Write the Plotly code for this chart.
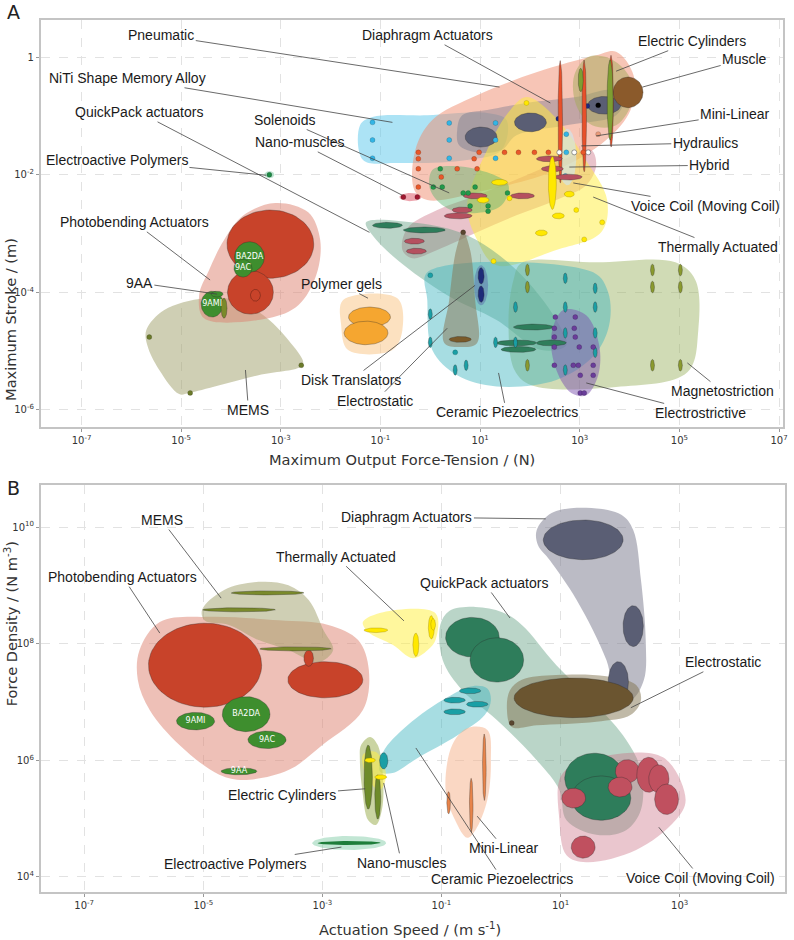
import numpy as np
import plotly.graph_objects as go

# ===================== PANEL A : log10(force N) vs log10(stroke m) =====================
A_MEMS = ([-5.70, -5.34, -4.54, -3.94, -3.35, -2.85, -2.55, -2.61, -3.45, -4.84, -5.04, -5.44, -5.68],
          [-4.64, -4.30, -4.10, -4.13, -4.39, -4.81, -5.19, -5.27, -5.41, -5.71, -5.73, -5.32, -4.90])
A_PHOTO = ([-3.11, -2.45, -2.21, -2.29, -2.65, -3.25, -4.54, -4.64, -4.44, -4.14, -3.75],
           [-2.48, -2.64, -3.11, -3.71, -4.22, -4.44, -4.44, -4.05, -3.62, -3.11, -2.69])
A_GELS = ([-1.75, -0.66, -0.56, -0.76, -1.65, -1.79], [-4.13, -4.10, -4.64, -4.98, -4.98, -4.55])
A_NITI = ([-1.41, -1.16, -0.06, 1.14, 1.53, 1.43, 0.74, -0.66, -1.35],
          [-1.16, -1.02, -0.99, -0.95, -1.07, -1.58, -1.75, -1.80, -1.75])
A_PNEU = ([-0.32, -0.30, 0.04, 0.94, 2.13, 3.33, 3.73, 4.08, 4.02, 3.53, 2.53, 1.14, -0.06],
          [-2.26, -1.58, -1.07, -0.65, -0.26, 0.03, 0.09, -0.31, -0.90, -1.41, -1.92, -2.26, -2.43])
A_DIAPH = ([0.54, 0.64, 1.14, 1.93, 2.93, 3.63, 3.88, 3.73, 2.73, 1.73, 1.43, 0.94, 0.58],
           [-1.24, -0.99, -0.90, -0.78, -0.68, -0.56, -0.73, -0.99, -1.16, -1.33, -1.58, -1.62, -1.50])
A_ECYL = ([3.17, 2.89, 2.93, 3.25, 3.73, 4.06, 3.98, 3.59], [0.00, -0.31, -0.82, -1.16, -1.16, -0.73, -0.31, -0.02])
A_VOICE = ([-0.56, -0.46, 0.14, 0.94, 1.93, 2.73, 3.23, 3.33, 3.13, 2.53, 1.73, 0.94, 0.14, -0.36],
           [-3.28, -2.91, -2.60, -2.35, -2.01, -1.72, -1.58, -1.84, -2.18, -2.43, -2.69, -2.98, -3.28, -3.42])
A_THERM = ([1.93, 2.53, 3.12, 3.55, 3.43, 2.53, 1.33, 0.94, 0.74, 1.14, 1.57],
           [-0.68, -1.04, -1.75, -2.43, -2.98, -3.28, -3.54, -3.11, -2.52, -1.58, -0.94])
A_SOLEN = ([0.04, 0.44, 1.14, 1.57, 1.43, 0.94, 0.34, 0.00], [-1.92, -1.85, -1.96, -2.18, -2.52, -2.65, -2.57, -2.26])
A_QUICK = ([-1.29, -0.26, 0.74, 1.73, 2.53, 2.73, 2.23, 1.33, 0.34, -0.66, -1.16],
           [-2.81, -2.82, -3.03, -3.62, -4.47, -4.90, -4.98, -4.47, -4.05, -3.45, -3.03])
A_MAGNETO = ([1.83, 3.33, 4.92, 5.32, 5.38, 5.16, 3.73, 2.03, 1.69, 1.57, 1.67],
             [-3.50, -3.49, -3.49, -3.79, -4.64, -5.36, -5.61, -5.58, -5.32, -4.47, -3.79])
A_CERAMIC = ([-0.06, 3.27, 3.57, 3.59, 3.29, 2.53, 1.33, 0.54, 0.04, -0.06],
             [-3.66, -3.66, -4.00, -4.56, -5.07, -5.49, -5.60, -5.41, -4.98, -4.13])
A_ESTATIC = ([0.66, 0.80, 0.90, 0.94, 0.62, 0.28, 0.38, 0.52], [-2.98, -3.28, -4.13, -4.86, -4.93, -4.86, -4.13, -3.28])
A_ESTRICT = ([2.67, 3.13, 3.39, 3.37, 3.13, 2.83, 2.53, 2.43], [-4.30, -4.39, -4.90, -5.41, -5.75, -5.71, -5.32, -4.73])

A_ELL_PHOTO_RED = [(-3.21, -3.18, 0.87, 0.58), (-3.61, -4.00, 0.46, 0.37)]
A_ELL_PHOTO_SMALL = [(-3.51, -4.05, 0.10, 0.10)]
A_ELL_PHOTO_GREEN = [(-3.63, -3.40, 0.30, 0.26), (-3.76, -3.59, 0.18, 0.15), (-4.38, -4.20, 0.22, 0.22), (-4.28, -4.03, 0.12, 0.05)]
A_PHOTO_NAMES = ["BA2DA", "9AC", "9AMI", " "]
A_ELL_MEMS_OLIVE = [(-4.14, -4.27, 0.06, 0.17)]
A_DOT_MEMS = [(-5.64, -4.76), (-4.82, -5.71), (-2.59, -5.24)]
A_ELL_GELS = [(-1.22, -4.42, 0.42, 0.17), (-1.29, -4.69, 0.44, 0.20)]
A_EAP = [(-3.23, -2.00)]
A_ELL_DIAPH = [(1.02, -1.36, 0.32, 0.17), (2.01, -1.11, 0.32, 0.16), (3.49, -0.82, 0.33, 0.15)]
A_DOT_DIAPH = [(2.57, -1.05), (3.15, -0.83)]
A_DOT_BLACK = [(3.37, -0.82)]
A_ELL_HYDR = [(2.61, -1.10, 0.045, 1.04), (3.09, -1.00, 0.045, 0.95), (3.63, -0.75, 0.045, 0.78)]
A_ELL_ECYL = [(3.02, -0.39, 0.05, 0.20), (3.61, -0.73, 0.06, 0.68)]
A_ELL_MUSCLE = [(3.97, -0.60, 0.30, 0.26)]
A_HYBRID = [(2.75, -1.70, 0.18, 0.48)]
A_DOT_OPEN = [(2.59, -1.62), (2.89, -1.62), (3.17, -1.62)]
A_DOT_MINI = [(3.37, -1.31)]
A_DOT_PNEU = [(-0.24, -1.62), (-0.24, -1.73), (-0.24, -1.90), (-0.24, -2.21), (0.22, -2.04), (0.54, -1.90),
              (0.88, -1.73), (0.94, -1.90), (0.98, -1.62), (1.49, -1.62), (1.77, -1.62), (2.09, -1.62),
              (2.37, -1.62), (3.07, -1.62)]
A_DOT_NITI = [(-1.16, -1.11), (-1.16, -1.41), (-1.16, -1.72), (0.38, -1.12), (0.38, -1.41), (0.38, -1.72),
              (1.31, -1.12), (1.31, -1.41), (1.31, -1.72), (2.73, -1.31), (2.73, -1.62), (2.71, -2.02)]
A_ELL_VOICE = [(2.39, -1.73, 0.26, 0.05), (2.45, -1.90, 0.22, 0.05), (2.77, -2.04, 0.28, 0.05), (0.90, -2.36, 0.24, 0.05),
               (1.85, -2.36, 0.24, 0.05), (0.64, -2.60, 0.20, 0.05), (0.56, -2.70, 0.28, 0.05), (-0.32, -3.13, 0.20, 0.05),
               (-0.28, -3.30, 0.20, 0.05)]
A_ELL_NANO = [(-0.40, -2.38, 0.22, 0.07)]
A_DOT_NANO = [(-0.54, -2.38), (-0.26, -2.38)]
A_ELL_THERM = [(2.45, -2.14, 0.08, 0.45), (1.39, -2.13, 0.16, 0.05), (1.06, -2.43, 0.12, 0.05), (2.79, -2.33, 0.10, 0.05),
               (2.57, -2.70, 0.12, 0.05), (2.23, -2.99, 0.12, 0.05)]
A_DOT_THERM = [(2.93, -2.60), (3.45, -2.81), (1.59, -2.40), (1.93, -0.78), (1.27, -3.47), (3.09, -3.10)]
A_DOT_SOLEN = [(0.20, -1.90), (0.06, -2.21), (0.24, -2.21), (0.66, -2.31), (0.76, -2.31), (0.90, -2.21),
               (1.55, -2.31), (1.16, -2.53), (1.16, -2.62), (0.80, -2.53)]
A_ELL_QUICK = [(-0.86, -2.86, 0.30, 0.05), (-0.12, -2.94, 0.42, 0.05), (2.07, -4.59, 0.40, 0.05),
               (1.73, -4.86, 0.40, 0.05), (1.77, -4.97, 0.35, 0.05), (2.43, -4.86, 0.30, 0.05)]
A_ELL_ESTATIC = [(0.60, -4.80, 0.22, 0.05)]
A_DOT_ESTATIC = [(0.66, -2.98)]
A_ELL_DISK_HALO = [(1.02, -3.88, 0.14, 0.34)]
A_ELL_DISK = [(1.02, -3.72, 0.06, 0.14), (1.02, -4.03, 0.06, 0.14)]
A_ELL_CERAMIC = [(0.0, -4.37), (0.0, -4.85), (0.5, -5.32), (0.72, -5.24), (1.31, -4.85), (1.71, -4.25), (1.71, -4.85),
                 (2.71, -3.76), (2.71, -4.25), (2.71, -4.69), (2.71, -5.32), (3.31, -3.93), (3.31, -4.25),
                 (3.31, -4.69), (3.31, -5.02)]
A_DOT_CERAMIC = [(0.0, -3.71), (0.5, -5.02)]
A_ELL_MAGNETO = [(1.95, -3.62), (1.95, -3.91), (1.95, -5.24), (4.46, -3.62), (4.46, -3.91), (4.46, -5.24),
                 (5.02, -3.62), (5.02, -3.91), (5.02, -5.24)]
A_DOT_ESTRICT = [(2.51, -4.42), (2.91, -4.42), (2.49, -4.61), (2.89, -4.61), (2.49, -4.76), (2.91, -4.76),
                 (2.49, -4.93), (2.99, -4.93), (3.27, -4.93), (2.49, -5.24), (2.87, -5.24), (2.97, -5.24),
                 (3.27, -5.24), (3.01, -5.41), (3.27, -5.41), (3.01, -5.71), (3.09, -5.71)]

# label, text x, text y, target x, target y (log10 units)
A_LABELS = [
    ("Pneumatic", -5.40, 0.37, 1.39, -0.51),
    ("Diaphragm Actuators", -0.06, 0.37, 2.41, -0.78),
    ("Electric Cylinders", 5.26, 0.27, 3.73, -0.24),
    ("Muscle", 6.31, -0.03, 4.26, -0.51),
    ("Mini-Linear", 6.12, -0.97, 3.33, -1.34),
    ("Hydraulics", 5.52, -1.46, 3.03, -1.51),
    ("Hybrid", 5.60, -1.84, 2.79, -1.87),
    ("Voice Coil (Moving Coil)", 5.52, -2.53, 2.87, -2.14),
    ("Thermally Actuated", 5.78, -3.23, 3.27, -2.38),
    ("NiTi Shape Memory Alloy", -6.08, -0.36, -0.76, -1.11),
    ("QuickPack actuators", -5.84, -0.94, -1.22, -2.98),
    ("Solenoids", -2.91, -1.07, 0.38, -2.31),
    ("Nano-muscles", -2.63, -1.45, -0.56, -2.35),
    ("Electroactive Polymers", -6.29, -1.75, -3.29, -2.01),
    ("Photobending Actuators", -5.94, -2.81, -4.42, -3.79),
    ("9AA", -5.84, -3.84, -4.28, -4.03),
    ("Polymer gels", -1.79, -3.86, -1.25, -4.10),
    ("Disk Translators", -1.59, -5.49, 0.90, -3.88),
    ("Electrostatic", -1.10, -5.85, 0.34, -4.61),
    ("Ceramic Piezoelectrics", 1.53, -6.04, 1.37, -5.37),
    ("Magnetostriction", 5.86, -5.68, 5.16, -5.20),
    ("Electrostrictive", 5.42, -6.05, 3.13, -5.54),
    ("MEMS", -3.65, -6.00, -3.71, -5.32),
]

# ===================== PANEL B : log10(speed m/s) vs log10(force density N/m3) =====================
B_PHOTO = ([-6.07, -5.73, -4.90, -3.73, -2.90, -2.40, -2.22, -2.32, -3.00, -3.57, -4.32, -4.73, -5.40, -5.90, -6.10],
           [7.89, 8.37, 8.46, 8.40, 8.32, 8.06, 7.55, 6.86, 6.26, 5.83, 5.66, 5.75, 6.26, 6.86, 7.38])
B_MEMS = ([-5.02, -4.65, -4.07, -3.57, -3.23, -2.98, -2.82, -3.07, -3.57, -4.07, -4.57, -4.98],
          [8.58, 8.92, 9.06, 9.00, 8.75, 8.23, 7.89, 7.68, 7.89, 8.06, 8.32, 8.40])
B_THERM = ([-2.32, -1.98, -1.10, -1.10, -1.23, -1.48, -1.82, -2.23], [8.37, 8.54, 8.52, 8.06, 7.89, 7.75, 7.98, 8.20])
B_DIAPH = ([0.60, 0.85, 1.43, 2.02, 2.22, 2.35, 2.43, 2.40, 2.18, 1.93, 1.77, 1.27, 0.82, 0.62],
           [9.95, 10.24, 10.33, 10.21, 9.95, 9.09, 8.06, 7.38, 7.03, 7.12, 7.72, 8.75, 9.43, 9.69])
B_QUICK = ([-1.02, -0.87, -0.43, 0.02, 0.35, 0.93, 1.60, 2.10, 2.35, 2.35, 2.10, 1.60, 1.10, 0.98, 0.60, -0.07, -0.65, -0.98],
           [8.32, 8.56, 8.63, 8.54, 8.32, 7.63, 6.95, 6.35, 5.83, 5.15, 4.80, 4.72, 4.97, 5.49, 6.00, 6.69, 7.20, 7.72])
B_ESTATIC = ([0.15, 0.35, 0.93, 1.77, 2.27, 2.35, 2.18, 1.60, 0.60, 0.18, 0.10],
             [7.20, 7.38, 7.46, 7.44, 7.29, 7.03, 6.78, 6.66, 6.60, 6.57, 6.86])
B_CERAMIC = ([-2.03, -1.98, -1.57, -0.90, -0.48, -0.23, -0.17, -0.27, -0.73, -1.40, -1.82],
             [5.80, 6.14, 6.60, 7.08, 7.27, 7.23, 7.03, 6.78, 6.43, 6.04, 5.78])
B_ECYL = ([-2.35, -2.20, -2.07, -1.98, -2.00, -2.10, -2.23, -2.33, -2.37],
          [6.26, 6.40, 6.26, 5.66, 5.15, 4.89, 4.97, 5.49, 6.00])
B_NANO = ([-2.32, -2.10, -1.93, -2.03, -2.23], [6.09, 6.14, 5.75, 5.49, 5.66])
B_MINI = ([-0.93, -0.82, -0.57, -0.23, -0.17, -0.23, -0.43, -0.57, -0.77],
          [5.49, 6.26, 6.55, 6.52, 6.00, 5.32, 4.80, 4.67, 4.97])
B_VOICE = ([1.02, 1.60, 2.72, 3.10, 2.93, 2.27, 1.43, 1.10, 0.98], [5.75, 6.04, 6.05, 5.32, 4.97, 4.46, 4.25, 4.37, 4.97])

B_ELL_PHOTO_RED = [(-4.97, 7.63, 0.95, 0.72), (-2.95, 7.38, 0.63, 0.31), (-3.23, 7.75, 0.08, 0.14)]
B_ELL_PHOTO_GREEN = [(-5.13, 6.67, 0.32, 0.15), (-4.28, 6.79, 0.40, 0.30), (-3.93, 6.35, 0.32, 0.15), (-4.40, 5.81, 0.30, 0.06)]
B_PHOTO_NAMES = ["9AMI", "BA2DA", "9AC", "9AA"]
B_ELL_MEMS = [(-3.92, 8.87, 0.61, 0.035), (-4.40, 8.58, 0.61, 0.035), (-3.45, 7.91, 0.60, 0.035)]
B_ELL_THERM = [(-2.10, 8.23, 0.20, 0.04), (-1.43, 7.98, 0.05, 0.20), (-1.17, 8.28, 0.05, 0.20), (-1.14, 8.33, 0.04, 0.10)]
B_ELL_DIAPH = [(1.38, 9.78, 0.67, 0.34), (2.22, 8.30, 0.17, 0.35), (1.97, 7.34, 0.17, 0.35)]
B_ELL_QUICK = [(-0.48, 8.11, 0.45, 0.34), (-0.07, 7.72, 0.45, 0.38), (1.57, 5.69, 0.50, 0.43), (1.68, 5.35, 0.50, 0.38)]
B_ELL_ESTATIC = [(1.22, 7.07, 1.00, 0.34)]
B_DOT_ESTATIC = [(0.18, 6.64)]
B_ELL_CERAMIC = [(-0.52, 7.19, 0.18, 0.05), (-0.78, 7.03, 0.18, 0.05), (-0.40, 6.96, 0.18, 0.05),
                 (-0.78, 6.83, 0.18, 0.05), (-1.97, 5.99, 0.07, 0.14)]
B_ELL_ECYL = [(-2.23, 5.71, 0.07, 0.55), (-2.07, 5.37, 0.05, 0.38)]
B_ELL_NANO = [(-2.20, 6.00, 0.09, 0.04), (-2.02, 5.71, 0.10, 0.04)]
B_ELL_MINI = [(-0.88, 5.27, 0.03, 0.19), (-0.50, 5.23, 0.03, 0.46), (-0.28, 5.88, 0.03, 0.57)]
B_ELL_VOICE = [(1.22, 5.35, 0.20, 0.17), (2.12, 5.81, 0.20, 0.20), (2.00, 5.54, 0.20, 0.17), (2.48, 5.75, 0.20, 0.30),
               (2.65, 5.68, 0.17, 0.24), (2.78, 5.33, 0.20, 0.26), (1.38, 4.51, 0.20, 0.19)]
B_EAP_HALO = [(-2.55, 4.58, 0.62, 0.12)]
B_ELL_EAP = [(-2.55, 4.58, 0.53, 0.035)]

B_LABELS = [
    ("MEMS", -5.70, 10.12, -4.70, 8.78),
    ("Photobending Actuators", -6.35, 9.14, -5.73, 8.18),
    ("Thermally Actuated", -2.77, 9.49, -1.63, 8.39),
    ("Diaphragm Actuators", -1.58, 10.17, 0.75, 10.14),
    ("QuickPack actuators", -0.28, 9.04, 0.15, 8.44),
    ("Electrostatic", 3.72, 7.68, 2.18, 6.90),
    ("Electric Cylinders", -3.67, 5.40, -2.28, 5.51),
    ("Electroactive Polymers", -4.47, 4.22, -2.68, 4.51),
    ("Nano-muscles", -1.67, 4.24, -1.97, 5.61),
    ("Ceramic Piezoelectrics", 0.02, 3.96, -1.43, 6.21),
    ("Mini-Linear", 0.05, 4.49, -0.40, 5.04),
    ("Voice Coil (Moving Coil)", 3.35, 3.98, 2.65, 4.85),
]

A_XTICKS = [-7, -5, -3, -1, 1, 3, 5, 7]
A_YTICKS = [-6, -4, -2, 0]
B_XTICKS = [-7, -5, -3, -1, 1, 3]
B_YTICKS = [4, 6, 8, 10]

# ===================== drawing =====================
fig = go.Figure()
OUT = 'rgba(40,40,40,0.55)'


def add_region(pts, color, xa, ya):
    xs = list(pts[0]) + [pts[0][0]]
    ys = list(pts[1]) + [pts[1][0]]
    fig.add_trace(go.Scatter(x=10 ** np.array(xs), y=10 ** np.array(ys), mode='lines', fill='toself',
                             fillcolor=color, line=dict(width=0, shape='spline', smoothing=1.0, color=color),
                             hoverinfo='skip', showlegend=False, xaxis=xa, yaxis=ya))


def add_ell(items, fill, xa, ya, line=OUT, lw=0.6):
    t = np.linspace(0, 2 * np.pi, 80)
    for it in items:
        cx, cy, rx, ry = it[:4]
        fig.add_trace(go.Scatter(x=10 ** (cx + rx * np.cos(t)), y=10 ** (cy + ry * np.sin(t)), mode='lines',
                                 fill='toself', fillcolor=fill, line=dict(color=line, width=lw),
                                 hoverinfo='skip', showlegend=False, xaxis=xa, yaxis=ya))


def add_tall(items, fill, xa, ya, rx, ry, line=OUT):
    add_ell([(c[0], c[1], rx, ry) for c in items], fill, xa, ya, line=line)


def add_dots(items, color, xa, ya, size=5, line='rgba(0,0,0,0.3)', lw=0.5):
    fig.add_trace(go.Scatter(x=[10 ** p[0] for p in items], y=[10 ** p[1] for p in items], mode='markers',
                             marker=dict(color=color, size=size, line=dict(color=line, width=lw)),
                             hoverinfo='skip', showlegend=False, xaxis=xa, yaxis=ya))


def add_names(items, names, xa, ya):
    fig.add_trace(go.Scatter(x=[10 ** p[0] for p in items], y=[10 ** p[1] for p in items], mode='text',
                             text=names, textfont=dict(color='white', size=8, family='DejaVu Sans'),
                             hoverinfo='skip', showlegend=False, xaxis=xa, yaxis=ya))


# ---- panel A ----
xa, ya = 'x', 'y'
add_region(A_MEMS, 'rgba(160,160,105,0.5)', xa, ya)
add_region(A_PHOTO, 'rgba(222,130,112,0.5)', xa, ya)
add_region(A_GELS, 'rgba(250,200,140,0.55)', xa, ya)
add_ell([(A_EAP[0][0], A_EAP[0][1], 0.1, 0.06)], 'rgba(120,200,160,0.5)', xa, ya, line='rgba(0,0,0,0)')
add_region(A_NITI, 'rgba(90,200,235,0.5)', xa, ya)
add_region(A_PNEU, 'rgba(240,140,110,0.5)', xa, ya)
add_region(A_DIAPH, 'rgba(95,105,135,0.35)', xa, ya)
add_region(A_ECYL, 'rgba(165,170,90,0.5)', xa, ya)
add_region(A_VOICE, 'rgba(200,105,125,0.4)', xa, ya)
add_region(A_THERM, 'rgba(255,238,60,0.5)', xa, ya)
add_region(A_SOLEN, 'rgba(90,180,110,0.45)', xa, ya)
add_region(A_QUICK, 'rgba(90,155,125,0.42)', xa, ya)
add_region(A_MAGNETO, 'rgba(150,175,90,0.45)', xa, ya)
add_region(A_CERAMIC, 'rgba(60,180,190,0.45)', xa, ya)
add_region(A_ESTATIC, 'rgba(135,115,80,0.5)', xa, ya)
add_region(A_ESTRICT, 'rgba(125,85,175,0.5)', xa, ya)
add_ell(A_HYBRID, 'rgba(205,232,242,0.6)', xa, ya, line='rgba(0,0,0,0)')
add_ell(A_ELL_DISK_HALO, 'rgba(90,110,170,0.5)', xa, ya, line='rgba(0,0,0,0)')

add_ell(A_ELL_PHOTO_RED, '#C8432A', xa, ya)
add_ell(A_ELL_PHOTO_SMALL, '#C8432A', xa, ya, line='rgba(60,20,10,0.6)')
add_ell(A_ELL_PHOTO_GREEN, '#3E8E2E', xa, ya)
add_ell(A_ELL_MEMS_OLIVE, '#7A8A2A', xa, ya)
add_names(A_ELL_PHOTO_GREEN, A_PHOTO_NAMES, xa, ya)
add_dots(A_DOT_MEMS, '#6B7A2A', xa, ya)
add_ell(A_ELL_GELS, '#F5A630', xa, ya)
add_dots(A_EAP, '#1E8A45', xa, ya, size=5)
add_ell(A_ELL_DIAPH, '#5A5E74', xa, ya)
add_dots(A_DOT_DIAPH, '#1C2A80', xa, ya)
add_dots(A_DOT_BLACK, '#000000', xa, ya)
add_ell(A_ELL_MUSCLE, '#8B5A2B', xa, ya)
add_ell(A_ELL_HYDR, '#E8502A', xa, ya)
add_ell(A_ELL_ECYL, '#7E9E32', xa, ya)
add_dots(A_DOT_OPEN, 'white', xa, ya, line='rgba(80,80,80,0.8)', lw=0.7)
add_dots(A_DOT_MINI, '#E89A7A', xa, ya)
add_dots(A_DOT_PNEU, '#E8582A', xa, ya)
add_dots(A_DOT_NITI, '#33B5E5', xa, ya)
add_ell(A_ELL_VOICE, '#B5505F', xa, ya)
add_ell(A_ELL_NANO, 'rgba(225,105,120,0.6)', xa, ya, line='rgba(0,0,0,0)')
add_dots(A_DOT_NANO, '#A01830', xa, ya)
add_ell(A_ELL_THERM, '#FFE800', xa, ya, line='rgba(150,130,0,0.6)')
add_dots(A_DOT_THERM, '#FFE800', xa, ya, line='rgba(150,130,0,0.6)')
add_dots(A_DOT_SOLEN, '#22994A', xa, ya)
add_ell(A_ELL_QUICK, '#2E7D5B', xa, ya)
add_ell(A_ELL_ESTATIC, '#7A5A2A', xa, ya)
add_dots(A_DOT_ESTATIC, '#5A4630', xa, ya)
add_ell(A_ELL_DISK, '#1E2A78', xa, ya)
add_tall(A_ELL_CERAMIC, '#1A9FA5', xa, ya, 0.04, 0.09)
add_dots(A_DOT_CERAMIC, '#1A9FA5', xa, ya)
add_tall(A_ELL_MAGNETO, '#8A9A2E', xa, ya, 0.04, 0.1)
add_dots(A_DOT_ESTRICT, '#6A3D9A', xa, ya)

# ---- panel B ----
xb, yb = 'x2', 'y2'
add_region(B_PHOTO, 'rgba(222,130,112,0.5)', xb, yb)
add_region(B_MEMS, 'rgba(160,160,105,0.5)', xb, yb)
add_region(B_THERM, 'rgba(255,240,60,0.5)', xb, yb)
add_region(B_DIAPH, 'rgba(120,120,140,0.5)', xb, yb)
add_region(B_QUICK, 'rgba(90,155,125,0.42)', xb, yb)
add_region(B_VOICE, 'rgba(200,105,125,0.38)', xb, yb)
add_region(B_ESTATIC, 'rgba(130,115,80,0.5)', xb, yb)
add_region(B_CERAMIC, 'rgba(60,180,190,0.45)', xb, yb)
add_region(B_ECYL, 'rgba(150,170,70,0.5)', xb, yb)
add_region(B_NANO, 'rgba(255,240,60,0.5)', xb, yb)
add_region(B_MINI, 'rgba(245,175,135,0.5)', xb, yb)
add_ell(B_EAP_HALO, 'rgba(120,200,160,0.45)', xb, yb, line='rgba(0,0,0,0)')

add_ell(B_ELL_PHOTO_RED, '#C8432A', xb, yb)
add_ell(B_ELL_PHOTO_GREEN, '#3E8E2E', xb, yb)
add_names(B_ELL_PHOTO_GREEN, B_PHOTO_NAMES, xb, yb)
add_ell(B_ELL_MEMS, '#7A8A2A', xb, yb)
add_ell(B_ELL_THERM, '#FFE800', xb, yb, line='rgba(150,130,0,0.6)')
add_ell(B_ELL_DIAPH, '#5A5E74', xb, yb)
add_ell(B_ELL_QUICK, '#2E7D5B', xb, yb)
add_ell(B_ELL_ESTATIC, '#6B5530', xb, yb)
add_dots(B_DOT_ESTATIC, '#5A4630', xb, yb)
add_ell(B_ELL_CERAMIC, '#1A9FA5', xb, yb)
add_ell(B_ELL_ECYL, '#6E8B2A', xb, yb)
add_ell(B_ELL_NANO, '#FFE800', xb, yb, line='rgba(150,130,0,0.6)')
add_ell(B_ELL_MINI, '#E8844A', xb, yb)
add_ell(B_ELL_VOICE, '#C0505F', xb, yb)
add_ell(B_ELL_EAP, '#1E7D3A', xb, yb, line='rgba(0,0,0,0)')

# ---- annotations ----
LABEL_FONT = dict(family='Liberation Sans, Arial', size=14, color='#1a1a1a')
ann = []
for (txt, tx, ty, px, py) in A_LABELS:
    ann.append(dict(text=txt, x=px, y=py, xref='x', yref='y', ax=tx, ay=ty, axref='x', ayref='y',
                    showarrow=True, arrowhead=0, arrowwidth=0.8, arrowcolor='#444', font=LABEL_FONT))
for (txt, tx, ty, px, py) in B_LABELS:
    ann.append(dict(text=txt, x=px, y=py, xref='x2', yref='y2', ax=tx, ay=ty, axref='x2', ayref='y2',
                    showarrow=True, arrowhead=0, arrowwidth=0.8, arrowcolor='#444', font=LABEL_FONT))

TITLE_FONT = dict(family='DejaVu Sans', size=14.6, color='#333')
ann += [
    dict(text='A', x=0.006, y=0.987, xref='paper', yref='paper', showarrow=False,
         font=dict(family='DejaVu Sans', size=19, color='#222'), xanchor='left', yanchor='middle'),
    dict(text='B', x=0.006, y=0.481, xref='paper', yref='paper', showarrow=False,
         font=dict(family='DejaVu Sans', size=19, color='#222'), xanchor='left', yanchor='middle'),
    dict(text='Maximum Output Force-Tension / (N)', x=0.509, y=0.511, xref='paper', yref='paper',
         showarrow=False, font=TITLE_FONT),
    dict(text='Maximum Stroke / (m)', x=0.0, y=0.749, xref='paper', yref='paper', textangle=-90,
         xanchor='left', showarrow=False, font=TITLE_FONT),
    dict(text='Actuation Speed / (m s<sup>-1</sup>)', x=0.52, y=0.0, xref='paper', yref='paper',
         yanchor='bottom', showarrow=False, font=TITLE_FONT),
    dict(text='Force Density / (N m<sup>-3</sup>)', x=0.0, y=0.246, xref='paper', yref='paper', textangle=-90,
         xanchor='left', showarrow=False, font=TITLE_FONT),
]


def ticktxt(k):
    return '1' if k == 0 else '10<sup>%d</sup>' % k


AX = dict(type='log', showgrid=True, gridcolor='#e2e2e2', griddash='dash', gridwidth=1, zeroline=False,
          showline=True, mirror=True, linecolor='#c4c4c4', linewidth=1.5, ticks='outside', ticklen=3,
          tickcolor='#999', tickfont=dict(family='DejaVu Sans', size=10, color='#333'))

fig.update_layout(
    width=794, height=940, margin=dict(l=0, r=0, t=0, b=0),
    paper_bgcolor='white', plot_bgcolor='white', showlegend=False,
    xaxis=dict(AX, domain=[0.0516, 0.9924], range=[-7.82, 7.08], anchor='y',
               tickvals=[10.0 ** k for k in A_XTICKS], ticktext=[ticktxt(k) for k in A_XTICKS]),
    yaxis=dict(AX, domain=[0.5457, 0.9787], range=[-6.29, 0.63], anchor='x',
               tickvals=[10.0 ** k for k in A_YTICKS], ticktext=[ticktxt(k) for k in A_YTICKS]),
    xaxis2=dict(AX, domain=[0.0516, 0.995], range=[-7.73, 4.77], anchor='y2',
                tickvals=[10.0 ** k for k in B_XTICKS], ticktext=[ticktxt(k) for k in B_XTICKS]),
    yaxis2=dict(AX, domain=[0.0511, 0.484], range=[3.74, 10.72], anchor='x2',
                tickvals=[10.0 ** k for k in B_YTICKS], ticktext=[ticktxt(k) for k in B_YTICKS]),
    annotations=ann,
)

fig.write_html("out.html", config={'displayModeBar': False},
               post_script="document.body.style.margin='0px';document.body.style.padding='0px';")
